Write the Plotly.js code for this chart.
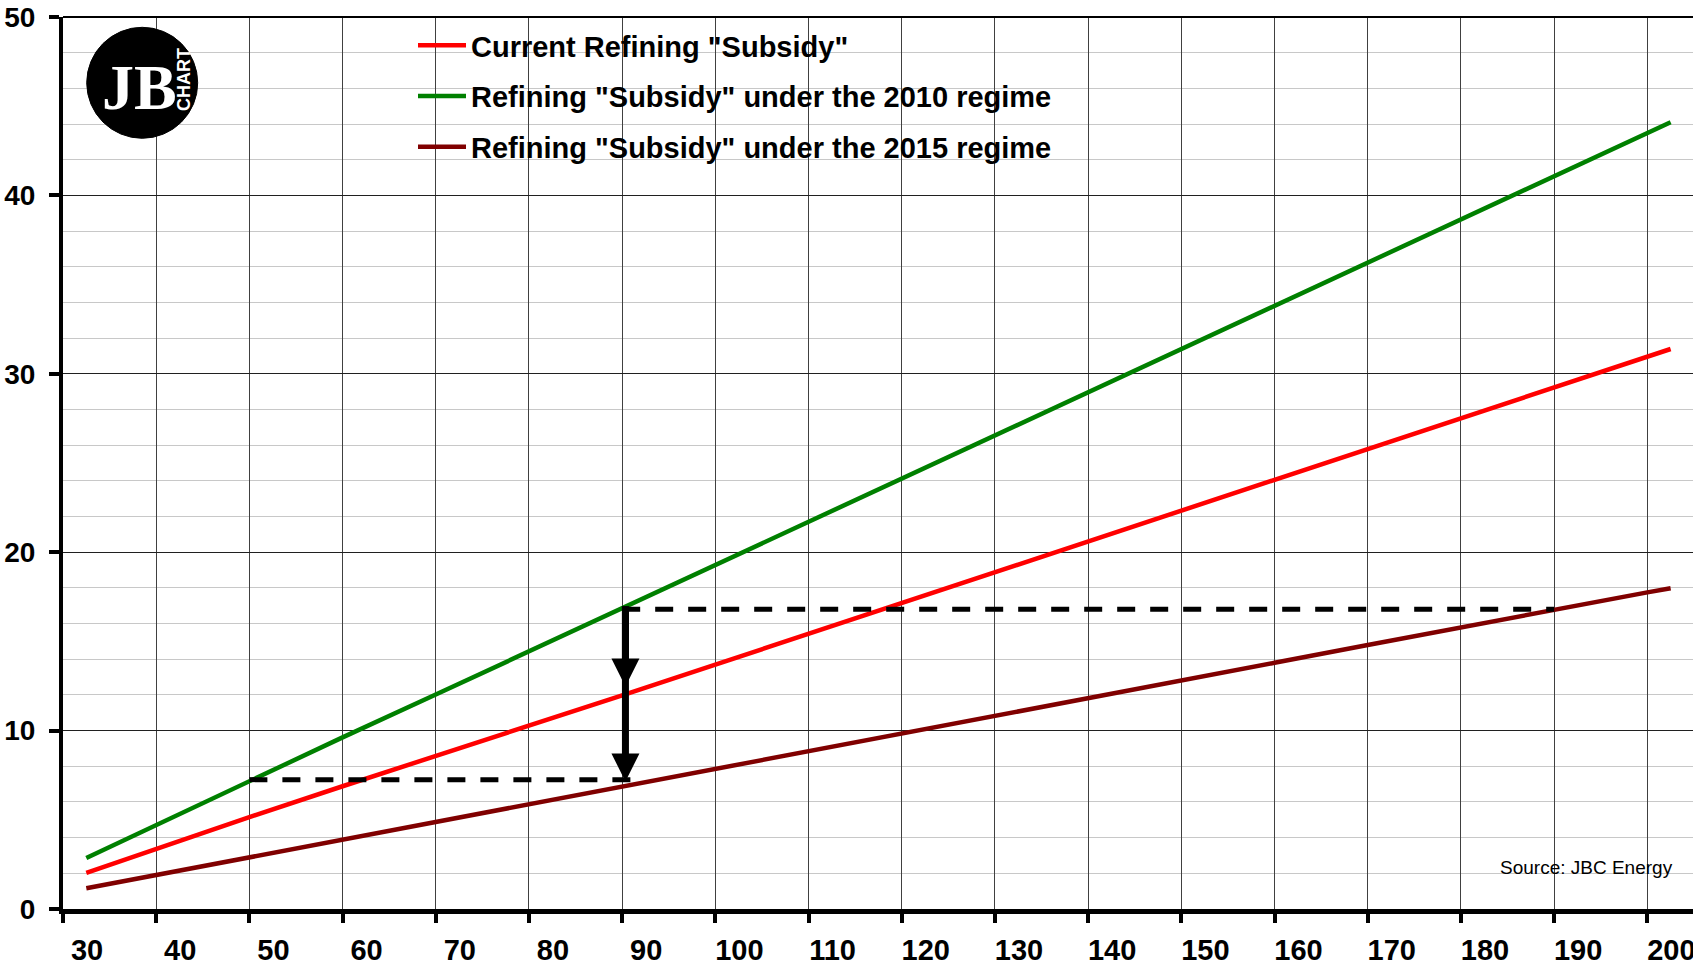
<!DOCTYPE html>
<html>
<head>
<meta charset="utf-8">
<script src="https://cdn.plot.ly/plotly-3.0.1.min.js"></script>
<style>
html,body{margin:0;padding:0;background:#fff;overflow:hidden}
#chart{width:1693px;height:966px}
</style>
</head>
<body>
<div id="chart"></div>
<script>
// ---- data ----
const crudePrice = [32.5, 40, 50, 60, 70, 80, 90, 100, 110, 120, 130, 140, 150, 160, 170, 180, 190, 200, 202.5];
const currentSubsidy = [2.02, 3.38, 5.15, 6.88, 8.56, 10.24, 11.98, 13.7, 15.43, 17.15, 18.88, 20.6, 22.33, 24.05, 25.78, 27.5, 29.23, 30.96, 31.39];
const subsidy2010 = [2.86, 4.7, 7.2, 9.62, 12.02, 14.44, 16.87, 19.29, 21.71, 24.13, 26.55, 28.97, 31.39, 33.81, 36.23, 38.65, 41.07, 43.49, 44.1];
const subsidy2015 = [1.16, 1.9, 2.9, 3.88, 4.87, 5.87, 6.86, 7.85, 8.84, 9.83, 10.82, 11.81, 12.8, 13.8, 14.8, 15.8, 16.8, 17.75, 17.98];
const seriesNames = ['Current Refining "Subsidy"', 'Refining "Subsidy" under the 2010 regime', 'Refining "Subsidy" under the 2015 regime'];
const xTickVals = [30, 40, 50, 60, 70, 80, 90, 100, 110, 120, 130, 140, 150, 160, 170, 180, 190, 200];
const xTickText = ['30', '40', '50', '60', '70', '80', '90', '100', '110', '120', '130', '140', '150', '160', '170', '180', '190', '200'];
const yTickVals = [0, 10, 20, 30, 40, 50];
const yTickText = ['0', '10', '20', '30', '40', '50'];
// reference guides: price points and subsidy levels
const guidePrices = [50, 90, 190];       // 2010@50, arrow at 90, 2015@190
const guideLevels = [7.25, 16.8];        // lower and upper dashed levels
const arrowPrice = 90.35;
const arrowTop = 17.06;
const arrowMidTip = 12.47;
const arrowBottomTip = 7.15;
const lowerGuideEnd = 91.9;
const sourceText = 'Source: JBC Energy';

// ---- geometry helpers ----
const W = 1693, H = 966;
const mL = 63, mR = 0, mT = 17, mB = 57;
const plotW = W - mL - mR, plotH = H - mT - mB;
const px = x => (x - mL) / plotW;
const py = y => (mT + plotH - y) / plotH;

const FONT = 'Liberation Sans, Arial, sans-serif';
const colors = ['#ff0000', '#008000', '#800000'];
const seriesY = [currentSubsidy, subsidy2010, subsidy2015];

const traces = seriesY.map((ys, i) => ({
  type: 'scatter',
  mode: 'lines',
  x: crudePrice,
  y: ys,
  name: seriesNames[i],
  legendgroup: 'g' + i,
  line: {color: colors[i], width: 4.5},
  hoverinfo: 'skip'
}));

const dashLine = {color: '#000', width: 5, dash: '18px,15px'};

const shapes = [
  // white boxes hiding gridlines
  {type: 'rect', layer: 'between', xref: 'paper', yref: 'paper', x0: px(81), x1: px(205), y0: py(145), y1: 1, fillcolor: '#fff', line: {width: 0}},
  {type: 'rect', layer: 'between', xref: 'paper', yref: 'paper', x0: px(362), x1: px(1101), y0: py(171), y1: py(22), fillcolor: '#fff', line: {width: 0}},
  {type: 'rect', layer: 'between', xref: 'paper', yref: 'paper', x0: px(1454), x1: px(1680), y0: py(892), y1: py(842), fillcolor: '#fff', line: {width: 0}},
  // top border
  {type: 'line', layer: 'above', xref: 'paper', yref: 'paper', x0: 0, x1: 1, y0: 1, y1: 1, line: {color: '#000', width: 2}},
  // dashed guides
  {type: 'line', layer: 'above', xref: 'x', yref: 'y', x0: guidePrices[0], x1: lowerGuideEnd, y0: guideLevels[0], y1: guideLevels[0], line: dashLine},
  {type: 'line', layer: 'above', xref: 'x', yref: 'y', x0: guidePrices[1], x1: guidePrices[2], y0: guideLevels[1], y1: guideLevels[1], line: dashLine},
  // logo disc
  {type: 'circle', layer: 'above', xref: 'paper', yref: 'paper', x0: px(86.7), x1: px(197.7), y0: py(138.3), y1: py(27.3), fillcolor: '#000', line: {color: '#000', width: 1}}
];

const arrowStyle = {showarrow: true, arrowhead: 2, arrowsize: 0.8, arrowwidth: 7, arrowcolor: '#000', text: '', axref: 'x', ayref: 'y', xref: 'x', yref: 'y', standoff: 0, startstandoff: 0};

const annotations = [
  Object.assign({}, arrowStyle, {x: arrowPrice, y: arrowBottomTip, ax: arrowPrice, ay: arrowTop}),
  Object.assign({}, arrowStyle, {x: arrowPrice, y: arrowMidTip, ax: arrowPrice, ay: arrowTop}),
  {text: sourceText, showarrow: false, xref: 'paper', yref: 'paper', x: px(1675), y: py(867), xanchor: 'right', yanchor: 'middle', font: {family: FONT, size: 19, color: '#000'}},
  // logo lettering
  {text: 'JB', showarrow: false, xref: 'paper', yref: 'paper', x: px(139), y: py(88), xanchor: 'center', yanchor: 'middle', borderpad: 0, font: {family: 'Liberation Serif, serif', size: 64, color: '#fff', weight: 700}},
  {text: 'CHART', showarrow: false, textangle: -90, xref: 'paper', yref: 'paper', x: px(184), y: py(80), xanchor: 'center', yanchor: 'middle', borderpad: 0, font: {family: FONT, size: 18, color: '#fff', weight: 700}}
];

const layout = {
  width: W, height: H,
  margin: {l: mL, r: mR, t: mT, b: mB, pad: 0, autoexpand: false},
  paper_bgcolor: '#fff',
  plot_bgcolor: '#fff',
  showlegend: true,
  legend: {
    xref: 'paper', yref: 'paper',
    x: px(413), y: py(20), xanchor: 'left', yanchor: 'top',
    bgcolor: 'rgba(0,0,0,0)', borderwidth: 0,
    font: {family: FONT, size: 29, color: '#000', weight: 700},
    traceorder: 'grouped', tracegroupgap: 10, itemwidth: 48
  },
  xaxis: {
    range: [30, 204.9],
    tickmode: 'array', tickvals: xTickVals, ticktext: xTickText,
    showgrid: true, gridcolor: '#404040', gridwidth: 1,
    showline: true, linecolor: '#000', linewidth: 5,
    ticks: 'outside', ticklen: 9, tickwidth: 4, tickcolor: '#000',
    tickfont: {family: FONT, size: 29, color: '#000', weight: 700},
    ticklabelshift: 24, ticklabelstandoff: 2,
    ticklabeloverflow: 'allow', automargin: false,
    zeroline: false, fixedrange: true
  },
  yaxis: {
    range: [0, 50],
    tickmode: 'array', tickvals: yTickVals, ticktext: yTickText,
    showgrid: true, gridcolor: '#202020', gridwidth: 1,
    minor: {dtick: 2, tick0: 0, showgrid: true, gridcolor: '#c8c8c8', gridwidth: 1, ticks: ''},
    showline: true, linecolor: '#000', linewidth: 4,
    ticks: 'outside', ticklen: 10, tickwidth: 4, tickcolor: '#000',
    tickfont: {family: FONT, size: 28, color: '#000', weight: 700},
    ticklabelstandoff: 8, automargin: false,
    zeroline: false, fixedrange: true
  },
  shapes: shapes,
  annotations: annotations
};

Plotly.newPlot('chart', traces, layout, {displayModeBar: false, staticPlot: true});
</script>
</body>
</html>
